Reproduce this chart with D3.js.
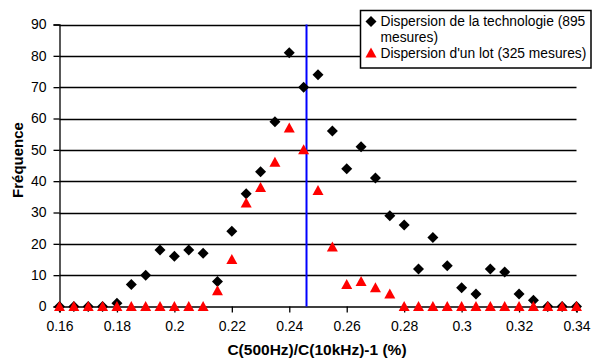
<!DOCTYPE html>
<html>
<head>
<meta charset="utf-8">
<script src="https://cdn.jsdelivr.net/npm/d3@7"></script>
<style>
  html, body { margin: 0; padding: 0; background: #fff; }
  svg { display: block; }
  text { font-family: Arial, "Liberation Sans", sans-serif; fill: #000; }
</style>
</head>
<body>
<svg id="chart" width="592" height="359"></svg>
<script>
const bins = [0.16,0.165,0.17,0.175,0.18,0.185,0.19,0.195,0.2,0.205,0.21,0.215,0.22,0.225,0.23,0.235,0.24,0.245,0.25,0.255,0.26,0.265,0.27,0.275,0.28,0.285,0.29,0.295,0.3,0.305,0.31,0.315,0.32,0.325,0.33,0.335,0.34];
const technologie = [0,0,0,0,1,7,10,18,16,18,17,8,24,36,43,59,81,70,74,56,44,51,41,29,26,12,22,13,6,4,12,11,4,2,0,0,0];
const lot = [0,0,0,0,0,0,0,0,0,0,0,5,15,33,38,46,57,50,37,19,7,8,6,4,0,0,0,0,0,0,0,0,0,0,0,0,0];
const xTicks = [0.16,0.18,0.2,0.22,0.24,0.26,0.28,0.3,0.32,0.34];
const yTicks = [0,10,20,30,40,50,60,70,80,90];
const meanValue = 0.246;
const legendLabels = ["Dispersion de la technologie (895", "mesures)", "Dispersion d'un lot (325 mesures)"];
const xTitle = "C(500Hz)/C(10kHz)-1 (%)";
const yTitle = "Fréquence";

const svg = d3.select("#chart");
const x = d3.scaleLinear().domain([0.16, 0.34]).range([59.5, 576.5]);
const y = d3.scaleLinear().domain([0, 90]).range([306.5, 24.5]);

// gridlines
svg.append("g").selectAll("line").data(yTicks.filter(v => v > 0)).join("line")
  .attr("x1", x(0.16)).attr("x2", x(0.34))
  .attr("y1", d => Math.round(y(d)) + 0.5).attr("y2", d => Math.round(y(d)) + 0.5)
  .attr("stroke", "#000").attr("stroke-width", 1.3);

// y axis
const yAxis = svg.append("g").attr("transform", `translate(${x(0.16)},0)`)
  .call(d3.axisLeft(y).tickValues(yTicks).tickSize(6).tickPadding(7).tickFormat(d3.format("d")));
yAxis.select(".domain").attr("stroke", "#000").attr("stroke-width", 1.3);
yAxis.selectAll(".tick line").attr("stroke", "#000").attr("stroke-width", 1.3);
yAxis.selectAll("text").style("font-size", "14px").style("font-family", "Arial, 'Liberation Sans', sans-serif");

// x axis
const xAxis = svg.append("g").attr("transform", `translate(0,${y(0)})`)
  .call(d3.axisBottom(x).tickValues(xTicks).tickSize(6).tickPadding(9).tickFormat(d => String(+d.toFixed(2))));
xAxis.select(".domain").attr("stroke", "#000").attr("stroke-width", 1.3);
xAxis.selectAll(".tick line").attr("stroke", "#000").attr("stroke-width", 1.3);
xAxis.selectAll("text").style("font-size", "14px").style("font-family", "Arial, 'Liberation Sans', sans-serif");

// mean line
svg.append("line")
  .attr("x1", x(meanValue)).attr("x2", x(meanValue))
  .attr("y1", y(90)).attr("y2", y(0))
  .attr("stroke", "#0000ff").attr("stroke-width", 2);

const diamond = "M0,-5.5L5.5,0L0,5.5L-5.5,0Z";
const triangle = "M0,-5.5L5.5,4.5L-5.5,4.5Z";

svg.append("g").selectAll("path").data(bins.map((b, i) => [b, technologie[i]])).join("path")
  .attr("d", diamond)
  .attr("transform", d => `translate(${x(d[0])},${y(d[1])})`)
  .attr("fill", "#000");

svg.append("g").selectAll("path").data(bins.map((b, i) => [b, lot[i]])).join("path")
  .attr("d", triangle)
  .attr("transform", d => `translate(${x(d[0])},${y(d[1])})`)
  .attr("fill", "#ff0000");

// legend
const lg = svg.append("g");
lg.append("rect").attr("x", 360.5).attr("y", 10.5).attr("width", 230.5).attr("height", 57.5)
  .attr("fill", "#fff").attr("stroke", "#000").attr("stroke-width", 1.5);
lg.append("path").attr("d", diamond).attr("transform", "translate(371,21.5)").attr("fill", "#000");
lg.append("path").attr("d", triangle).attr("transform", "translate(371,53)").attr("fill", "#ff0000");
lg.selectAll("text").data(legendLabels).join("text")
  .attr("x", 380.5)
  .attr("y", (d, i) => [25.5, 41.5, 57.5][i])
  .style("font-size", "13.8px")
  .text(d => d);

// titles
svg.append("text")
  .attr("x", 317).attr("y", 355)
  .attr("text-anchor", "middle")
  .style("font-size", "15.5px").style("font-weight", "bold")
  .text(xTitle);

svg.append("text")
  .attr("transform", "translate(23,160) rotate(-90)")
  .attr("text-anchor", "middle")
  .style("font-size", "15px").style("font-weight", "bold")
  .text(yTitle);
</script>
</body>
</html>
